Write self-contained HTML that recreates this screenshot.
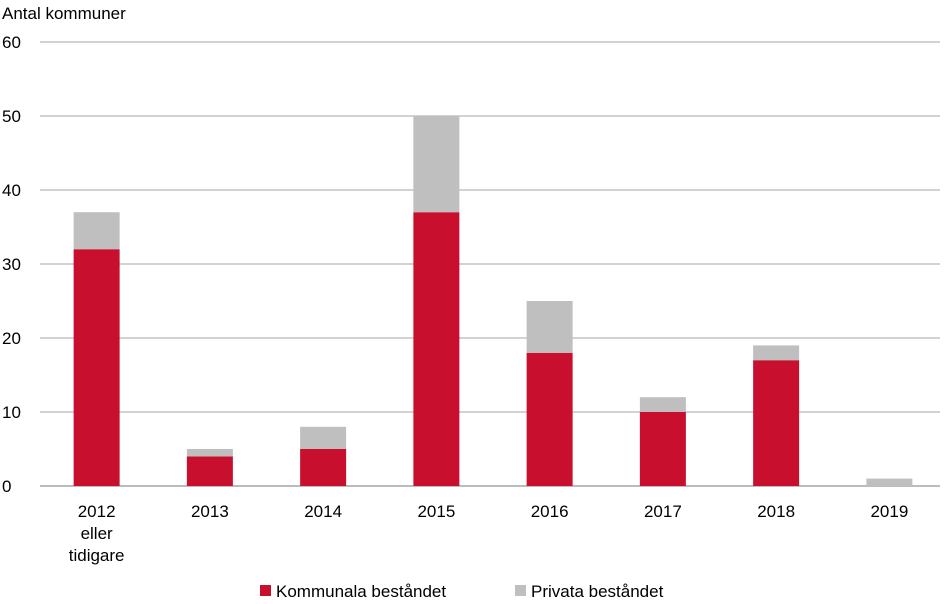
<!DOCTYPE html>
<html><head><meta charset="utf-8"><style>
body{margin:0;background:#fff;}
svg{font-family:"Liberation Sans",Arial,sans-serif;}
</style></head><body>
<svg id="c" width="946" height="599">
<text x="2" y="19" font-size="17" fill="#000">Antal kommuner</text>
<g id="grid"></g><g id="bars"></g><g id="xl"></g>
<g>
<rect x="260" y="585" width="11" height="11" fill="#c8102e"/>
<text x="276" y="597" font-size="17">Kommunala beståndet</text>
<rect x="515" y="585" width="11" height="11" fill="#bfbfbf"/>
<text x="531" y="597" font-size="17">Privata beståndet</text>
</g>
</svg>
<script>
const categories=[["2012","eller","tidigare"],["2013"],["2014"],["2015"],["2016"],["2017"],["2018"],["2019"]];
const kommunala=[32,4,5,37,18,10,17,0];
const privata=[5,1,3,13,7,2,2,1];
const yTicks=[0,10,20,30,40,50,60];
const ns="http://www.w3.org/2000/svg";
const x0=40,x1=946,y0=486,yTop=42,yMax=60;
const y=v=>y0-(y0-yTop)*v/yMax;
const band=(x1-x0)/categories.length;
const cx=i=>x0+band*(i+0.5);
const bw=46;
function mk(t,a,p){const e=document.createElementNS(ns,t);for(const k in a)e.setAttribute(k,a[k]);p.appendChild(e);return e;}
const g=document.getElementById('grid');
yTicks.forEach(v=>{
 const l=mk('line',{x1:x0,x2:940,y1:y(v),y2:y(v),stroke:'#a6a6a6','stroke-width':1},g);
 
 
 const t=mk('text',{x:2,y:y(v)+6,'font-size':17},g);t.textContent=v;
 
 
});
const b=document.getElementById('bars'),xl=document.getElementById('xl');
categories.forEach((c,i)=>{
 const r1=mk('rect',{x:cx(i)-bw/2,y:y(kommunala[i]),width:bw,height:y0-y(kommunala[i]),fill:'#c8102e'},b);
 
 
 const r2=mk('rect',{x:cx(i)-bw/2,y:y(kommunala[i]+privata[i]),width:bw,height:y(kommunala[i])-y(kommunala[i]+privata[i]),fill:'#bfbfbf'},b);
 
 
 c.forEach((s,j)=>{
  const t=mk('text',{x:cx(i),y:517+j*22,'font-size':17,'text-anchor':'middle'},xl);t.textContent=s;
  
  
 });
});
const ax=mk('line',{x1:x0,x2:940,y1:y0,y2:y0,stroke:'#a6a6a6','stroke-width':1.5},g);


</script>
</body></html>
